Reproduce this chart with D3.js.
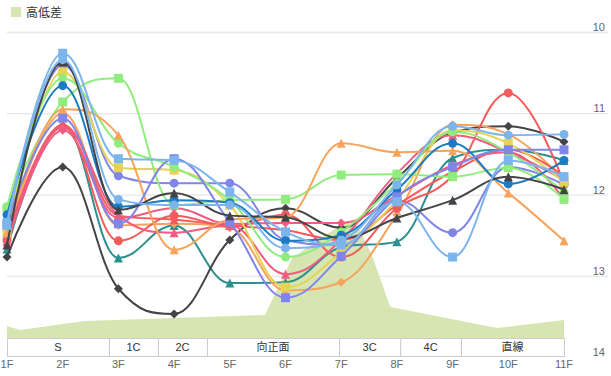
<!DOCTYPE html>
<html>
<head>
<meta charset="utf-8">
<script src="https://cdn.jsdelivr.net/npm/d3@7/dist/d3.min.js"></script>
<style>
  body { margin: 0; background: #fff; }
  svg { display: block; font-family: "Liberation Sans", Arial, "Noto Sans CJK JP", sans-serif; }
</style>
</head>
<body>
<div id="chart"></div>
<script>
// ---------------------------------------------------------------------
// Data

const floors = ['1F', '2F', '3F', '4F', '5F', '6F', '7F', '8F', '9F', '10F', '11F'];
const yTicks = [10, 11, 12, 13, 14];

// course sections, edges given in furlong position (0 = 1F, 10 = 11F)
const sections = ['S', '1C', '2C', '向正面', '3C', '4C', '直線'];
const sectionEdges = [0, 1.83, 2.71, 3.59, 5.96, 7.06, 8.15, 10];

// 高低差 (elevation, m) sampled along the course
const elevPos = [0, 0.23, 1.4, 4.63, 5.12, 6.07, 6.3, 6.55, 6.88, 8.8, 10];
const elevValues = [0.48, 0.32, 0.68, 0.92, 3.2, 4.64, 4.48, 3.32, 1.24, 0.4, 0.72];

// lap times per furlong, one array per horse
const lightBlueSquare = [12.38, 10.26, 11.56, 11.58, 11.97, 12.46, 12.62, 12.09, 12.77, 11.58, 11.78];
const lightBlueCircle = [12.34, 10.34, 12.06, 12.13, 12.13, 12.66, 12.56, 11.88, 11.16, 11.27, 11.26];
const blackDiamond = [12.77, 11.66, 13.16, 13.47, 12.56, 12.17, 12.41, 11.80, 11.24, 11.16, 11.35];
const blackTriangle = [12.62, 10.37, 12.19, 11.98, 12.26, 12.28, 12.54, 12.29, 12.07, 11.78, 11.94];
const greenSquare = [12.17, 10.86, 10.57, 12.13, 12.07, 12.06, 11.76, 11.75, 11.78, 11.67, 12.06];
const greenCircle = [12.15, 10.57, 11.37, 11.66, 12.07, 12.77, 12.46, 11.86, 11.23, 11.48, 11.97];
const orangeTriangle = [12.47, 10.95, 11.27, 12.68, 12.31, 12.28, 11.37, 11.48, 11.46, 11.98, 12.57];
const orangeDiamond = [12.51, 11.00, 12.38, 12.36, 12.41, 13.18, 13.08, 12.25, 11.14, 11.26, 11.82];
const purpleSquare = [12.35, 11.06, 12.36, 11.56, 12.34, 13.27, 12.76, 12.03, 11.66, 11.45, 11.45];
const purpleCircle = [12.41, 10.41, 11.77, 11.86, 11.86, 12.56, 12.62, 12.07, 12.47, 11.66, 11.88];
const pinkTriangle = [12.58, 11.17, 12.26, 12.47, 12.38, 12.98, 12.56, 11.74, 11.27, 11.48, 11.82];
const pinkDiamond = [12.62, 11.21, 12.29, 12.17, 12.36, 12.35, 12.35, 12.01, 11.64, 11.48, 12.06];
const yellowSquare = [12.47, 10.49, 11.67, 11.70, 12.13, 13.14, 12.71, 12.07, 11.21, 11.37, 11.85];
const tealTriangle = [12.67, 11.14, 12.78, 12.38, 13.09, 13.08, 12.65, 12.58, 11.55, 11.45, 11.58];
const redCircle = [12.56, 11.17, 12.57, 12.26, 12.39, 12.25, 12.77, 12.17, 11.77, 10.75, 11.86];
const redTriangle = [12.54, 11.14, 12.26, 12.31, 12.38, 12.44, 12.56, 12.13, 11.72, 11.45, 11.78];
const blueCircle = [12.25, 10.66, 12.15, 12.07, 12.10, 12.57, 12.50, 11.94, 11.37, 11.87, 11.58];

// ---------------------------------------------------------------------
// Series table

const series = [
  { values: tealTriangle, color: '#2b908f', symbol: 'triangle' },
  { values: blackDiamond, color: '#434348', symbol: 'diamond' },
  { values: orangeDiamond, color: '#f7a35c', symbol: 'diamond' },
  { values: purpleCircle, color: '#8085e9', symbol: 'circle' },
  { values: redCircle, color: '#f45b5b', symbol: 'circle' },
  { values: redTriangle, color: '#f45b5b', symbol: 'triangle' },
  { values: pinkDiamond, color: '#f15c80', symbol: 'diamond' },
  { values: pinkTriangle, color: '#f15c80', symbol: 'triangle' },
  { values: yellowSquare, color: '#e4d354', symbol: 'square' },
  { values: greenCircle, color: '#90ed7d', symbol: 'circle' },
  { values: greenSquare, color: '#90ed7d', symbol: 'square' },
  { values: orangeTriangle, color: '#f7a35c', symbol: 'triangle' },
  { values: blueCircle, color: '#1b7bc4', symbol: 'circle' },
  { values: purpleSquare, color: '#8085e9', symbol: 'square' },
  { values: blackTriangle, color: '#434348', symbol: 'triangle' },
  { values: lightBlueCircle, color: '#7cb5ec', symbol: 'circle' },
  { values: lightBlueSquare, color: '#7cb5ec', symbol: 'square' }
];

// ---------------------------------------------------------------------
// Layout

const width = 611;
const height = 376;
const left = 7;
const right = 564;
const gridRight = 608;
const bandTop = 338;
const bandBottom = 356;
const areaColor = '#d6e5b1';

const x = d3.scalePoint().domain(floors).range([left, right]);
const pos = d3.scaleLinear().domain([0, 10]).range([left, right]);
const y = d3.scaleLinear().domain([10, 14]).range([32, 357]);
const elev = d3.scaleLinear().domain([0, 5]).range([bandTop, 213]);

const svg = d3.select('#chart').append('svg')
  .attr('width', width)
  .attr('height', height);

// legend
svg.append('rect')
  .attr('x', 11).attr('y', 7)
  .attr('width', 10).attr('height', 10)
  .attr('fill', areaColor);
svg.append('text')
  .attr('x', 26).attr('y', 17)
  .attr('font-size', 12)
  .attr('font-family', '"Noto Sans CJK JP", sans-serif')
  .attr('fill', '#333')
  .text('高低差');

// grid + y labels (right side)
const grid = svg.append('g');
yTicks.forEach(function(t) {
  if (t < 14) {
    grid.append('line')
      .attr('x1', left).attr('x2', gridRight)
      .attr('y1', y(t) + 0.5).attr('y2', y(t) + 0.5)
      .attr('stroke', t === 10 ? '#ececec' : '#e0e0e0')
      .attr('stroke-width', t === 10 ? 2 : 1);
  }
  grid.append('text')
    .attr('x', 605).attr('y', y(t) - 1)
    .attr('text-anchor', 'end')
    .attr('font-size', 11)
    .attr('fill', '#666')
    .text(t);
});

// elevation area
const elevPoints = elevPos.map(function(p, i) { return [p, elevValues[i]]; });
svg.append('path')
  .datum(elevPoints)
  .attr('fill', areaColor)
  .attr('d', d3.area()
    .x(function(d) { return pos(d[0]); })
    .y0(bandTop)
    .y1(function(d) { return elev(d[1]); }));

// section bands
const bands = svg.append('g');
sections.forEach(function(s, i) {
  const x0 = pos(sectionEdges[i]);
  const x1 = pos(sectionEdges[i + 1]);
  bands.append('rect')
    .attr('x', x0 + 0.5).attr('y', bandTop + 0.5)
    .attr('width', x1 - x0).attr('height', bandBottom - bandTop)
    .attr('fill', '#fff')
    .attr('stroke', '#ccc');
  bands.append('text')
    .attr('x', (x0 + x1) / 2).attr('y', 351)
    .attr('text-anchor', 'middle')
    .attr('font-size', 11)
    .attr('fill', '#333')
    .text(s);
});

// x labels
svg.append('g').selectAll('text')
  .data(floors)
  .enter().append('text')
  .attr('x', function(d) { return x(d); })
  .attr('y', 368)
  .attr('text-anchor', 'middle')
  .attr('font-size', 11)
  .attr('fill', '#666')
  .text(function(d) { return d; });

// spline path, same control point rule as a highcharts spline
function splinePath(pts) {
  const smooth = 1.5;
  const denom = smooth + 1;
  const ctrl = pts.map(function(p, i) {
    if (i === 0 || i === pts.length - 1) return null;
    const px = p[0], py = p[1];
    const lx = pts[i - 1][0], ly = pts[i - 1][1];
    const nx = pts[i + 1][0], ny = pts[i + 1][1];
    const lcx = (smooth * px + lx) / denom;
    let lcy = (smooth * py + ly) / denom;
    const rcx = (smooth * px + nx) / denom;
    let rcy = (smooth * py + ny) / denom;
    const corr = ((rcy - lcy) * (rcx - px)) / (rcx - lcx) + py - rcy;
    lcy += corr;
    rcy += corr;
    if (lcy > ly && lcy > py) { lcy = Math.max(ly, py); rcy = 2 * py - lcy; }
    else if (lcy < ly && lcy < py) { lcy = Math.min(ly, py); rcy = 2 * py - lcy; }
    if (rcy > ny && rcy > py) { rcy = Math.max(ny, py); lcy = 2 * py - rcy; }
    else if (rcy < ny && rcy < py) { rcy = Math.min(ny, py); lcy = 2 * py - rcy; }
    return { lcx: lcx, lcy: lcy, rcx: rcx, rcy: rcy };
  });
  let d = 'M' + pts[0][0] + ',' + pts[0][1];
  for (let i = 1; i < pts.length; i++) {
    const a = ctrl[i - 1] ? [ctrl[i - 1].rcx, ctrl[i - 1].rcy] : pts[i - 1];
    const b = ctrl[i] ? [ctrl[i].lcx, ctrl[i].lcy] : pts[i];
    d += 'C' + a[0] + ',' + a[1] + ',' + b[0] + ',' + b[1] + ',' + pts[i][0] + ',' + pts[i][1];
  }
  return d;
}

function markerPath(type, cx, cy) {
  const r = 4.5;
  if (type === 'circle') {
    return 'M' + (cx - r) + ',' + cy + 'a' + r + ',' + r + ' 0 1,0 ' + (2 * r) + ',0a' + r + ',' + r + ' 0 1,0 ' + (-2 * r) + ',0Z';
  }
  if (type === 'square') {
    return 'M' + (cx - r) + ',' + (cy - r) + 'h' + (2 * r) + 'v' + (2 * r) + 'h' + (-2 * r) + 'Z';
  }
  if (type === 'triangle') {
    return 'M' + cx + ',' + (cy - r) + 'L' + (cx + r) + ',' + (cy + r) + 'L' + (cx - r) + ',' + (cy + r) + 'Z';
  }
  // diamond
  return 'M' + cx + ',' + (cy - r) + 'L' + (cx + r) + ',' + cy + 'L' + cx + ',' + (cy + r) + 'L' + (cx - r) + ',' + cy + 'Z';
}

// series
const plot = svg.append('g');
series.forEach(function(s) {
  const pts = s.values.map(function(v, i) { return [x(floors[i]), y(v)]; });
  const g = plot.append('g');
  g.append('path')
    .attr('d', splinePath(pts))
    .attr('fill', 'none')
    .attr('stroke', s.color)
    .attr('stroke-width', 2)
    .attr('stroke-linejoin', 'round');
  g.selectAll('path.marker')
    .data(pts)
    .enter().append('path')
    .attr('class', 'marker')
    .attr('d', function(p) { return markerPath(s.symbol, p[0], p[1]); })
    .attr('fill', s.color);
});
</script>
</body>
</html>
